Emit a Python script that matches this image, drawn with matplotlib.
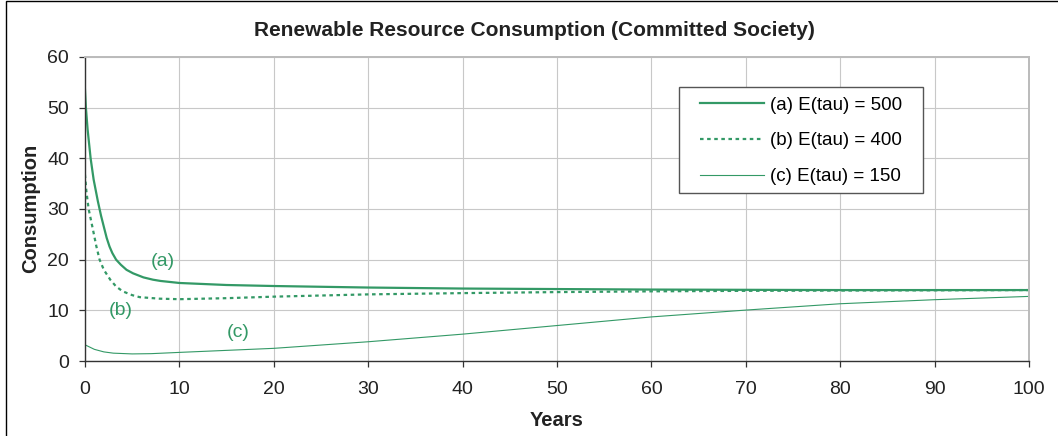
import matplotlib.pyplot as plt
from matplotlib.patches import Rectangle

plt.rcParams['font.family'] = ['Liberation Sans', 'DejaVu Sans']
plt.rcParams['font.size'] = 13.5

# values
years_a = [0, 0.1, 0.28, 0.6, 0.92, 1.37, 1.7, 2.08, 2.3, 2.6, 2.9, 3.3, 3.8, 4.4, 5.1,
           6.2, 7.2, 8, 10, 15, 20, 30, 40, 50, 60, 70, 80, 90, 100]
cons_a = [53.6, 50.0, 45.7, 40.0, 35.8, 31.5, 28.7, 25.9, 24.3, 22.6, 21.3, 20.0, 19.0, 18.0, 17.3,
          16.5, 16.05, 15.8, 15.4, 15.0, 14.8, 14.5, 14.3, 14.2, 14.1, 14.05, 14.0, 14.0, 14.0]

years_b = [0, 0.15, 0.39, 0.85, 1.2, 1.55, 2.0, 2.7, 3.3, 4.0, 5.0, 5.8, 7.9, 10,
           15, 20, 30, 40, 50, 60, 70, 80, 90, 100]
cons_b = [36.8, 33.5, 30.0, 25.9, 22.7, 20.0, 18.0, 16.0, 14.7, 13.75, 13.0, 12.6, 12.3, 12.2,
          12.4, 12.7, 13.15, 13.4, 13.6, 13.75, 13.85, 13.9, 13.95, 14.0]

years_c = [0, 1, 2, 3, 5, 7, 10, 15, 20, 30, 40, 50, 60, 70, 80, 90, 100]
cons_c = [3.2, 2.3, 1.8, 1.55, 1.4, 1.45, 1.7, 2.1, 2.5, 3.8, 5.3, 7.0, 8.7, 10.05,
          11.3, 12.1, 12.75]

labels = ['(a) E(tau) = 500', '(b) E(tau) = 400', '(c) E(tau) = 150']
green = '#339966'

fig = plt.figure(figsize=(10.58, 4.36), dpi=100)
ax = fig.add_axes([0.0803, 0.172, 0.8923, 0.6973])

ax.plot(years_a, cons_a, color=green, lw=1.6, label=labels[0])
ax.plot(years_b, cons_b, color=green, lw=1.6, linestyle=(0, (1.6, 1.6)), label=labels[1])
ax.plot(years_c, cons_c, color=green, lw=0.8, label=labels[2])

ax.text(8.26, 19.7, '(a)', color=green, ha='center', va='center', fontsize=14)
ax.text(3.8, 9.9, '(b)', color=green, ha='center', va='center', fontsize=14)
ax.text(16.2, 5.7, '(c)', color=green, ha='center', va='center', fontsize=14)

ax.set_xlim(0, 100)
ax.set_ylim(0, 60)
ax.set_xticks(range(0, 101, 10))
ax.set_yticks(range(0, 61, 10))
ax.grid(True, color='#c8c8c8', lw=0.8)
ax.set_axisbelow(True)
ax.tick_params(direction='out', length=4.5, width=0.9, color='#333333',
               labelcolor='#222222', labelsize=14)
ax.tick_params(axis='x', pad=10)
ax.tick_params(axis='y', pad=7)

for s in ['left', 'bottom']:
    ax.spines[s].set_color('#333333')
    ax.spines[s].set_linewidth(1.0)
for s in ['top', 'right']:
    ax.spines[s].set_color('#bbbbbb')
    ax.spines[s].set_linewidth(1.4)

# legend with a hand-drawn frame
leg = ax.legend(loc='center', bbox_to_anchor=(0.7585, 0.724), frameon=False,
                handlelength=3.4, handletextpad=0.3, labelspacing=1.0)
ax.add_patch(Rectangle((0.629, 0.553), 0.259, 0.348, transform=ax.transAxes,
                       fill=True, facecolor='white', edgecolor='#555555', lw=1.0, zorder=4))
leg.set_zorder(5)

fig.text(0.505, 0.931, 'Renewable Resource Consumption (Committed Society)',
         ha='center', va='center', fontweight='bold', color='#222222', fontsize=15)
fig.text(0.0285, 0.522, 'Consumption', rotation=90, ha='center', va='center',
         fontweight='bold', color='#222222', fontsize=14.5)
fig.text(0.5265, 0.036, 'Years', ha='center', va='center', fontweight='bold',
         color='#222222', fontsize=14.5)

# outer frame: only the top and left edges show in the reference
fig.patches.append(Rectangle((0.0052, -0.05), 1.2, 1.0466, transform=fig.transFigure,
                             fill=False, edgecolor='black', lw=1.0))

fig.savefig('out.png', dpi=100)
